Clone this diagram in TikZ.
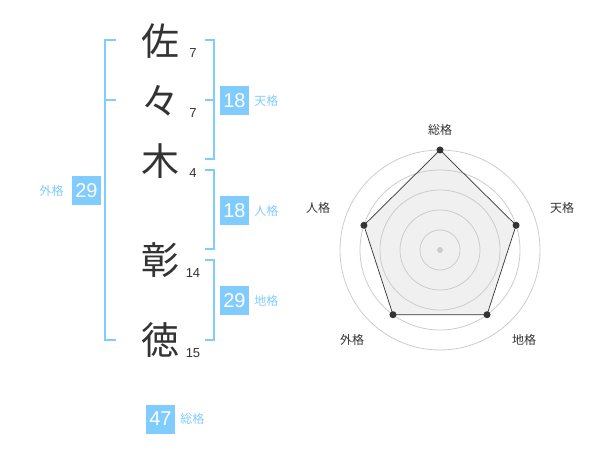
\documentclass[tikz,border=0pt]{standalone}
\usepackage{fontspec}
\setmainfont{Liberation Sans}
\newfontfamily\cjk{Noto Sans CJK JP}
\usetikzlibrary{positioning}
\definecolor{ink}{HTML}{333333}
\definecolor{sky}{HTML}{80CCFF}
\definecolor{ring}{HTML}{CCCCCC}
\definecolor{radarfill}{HTML}{F0F0F0}
\tikzset{
  kanji/.style={text=ink,font=\cjk\fontsize{38}{38}\selectfont,inner sep=0pt},
  strokes/.style={text=ink,font=\fontsize{13}{13}\selectfont,inner sep=0pt},
  bracket/.style={draw=sky,line width=2pt},
  score/.style={fill=sky,text=white,minimum size=29pt,inner sep=0pt,font=\fontsize{20}{20}\selectfont},
  kaku/.style={text=sky,font=\cjk\fontsize{12}{12}\selectfont,inner sep=0pt},
  axislabel/.style={text=ink,font=\cjk\fontsize{12}{12}\selectfont,inner sep=0pt},
}
\begin{document}
\begin{tikzpicture}[x=1pt,y=-1pt]
  \useasboundingbox (0,0) rectangle (600,470);
  % name
  \node[kanji] (c0) at (160,41) {佐};
  \node[kanji] (c1) at (160,101) {々};
  \node[kanji] (c2) at (160,161) {木};
  \node[kanji] (c3) at (160,260) {彰};
  \node[kanji] (c4) at (160,340) {徳};
  \node[strokes] (s0) at (193,53) {7};
  \node[strokes] (s1) at (193,113) {7};
  \node[strokes] (s2) at (193,173) {4};
  \node[strokes] (s3) at (193,273) {14};
  \node[strokes] (s4) at (193,353) {15};
  % brackets
  \draw[bracket] (116,40) -- (105,40) -- (105,340) -- (116,340);
  \draw[bracket] (105,100) -- (116,100);
  \draw[bracket] (205,40) -- (214,40) -- (214,159) -- (205,159);
  \draw[bracket] (205,100) -- (214,100);
  \draw[bracket] (205,170) -- (214,170) -- (214,249) -- (205,249);
  \draw[bracket] (205,260) -- (214,260) -- (214,340) -- (205,340);
  % scores
  \node[score] (ten) at (234.5,100.5) {18};
  \node[kaku] [right=5pt of ten] {天格};
  \node[score] (jin) at (234.5,210.5) {18};
  \node[kaku] [right=5pt of jin] {人格};
  \node[score] (chi) at (234.5,300.5) {29};
  \node[kaku] [right=5pt of chi] {地格};
  \node[score] (gai) at (86.5,190.5) {29};
  \node[kaku] [left=8pt of gai] {外格};
  \node[score] (sou) at (160.5,419) {47};
  \node[kaku] [right=5pt of sou] {総格};
  % radar
  \begin{scope}[shift={(440,250)}]
    \fill[radarfill]
      (90:100pt) -- (18:80pt) -- (-54:80pt) -- (-126:80pt) -- (162:80pt) -- cycle;
    \foreach \r in {20,40,60,80,100}
      \draw[ring,line width=0.8pt] (0,0) circle (\r pt);
    \draw[ink,line width=0.7pt]
      (90:100pt) -- (18:80pt) -- (-54:80pt) -- (-126:80pt) -- (162:80pt) -- cycle;
    \foreach \a/\r in {90/100,18/80,-54/80,-126/80,162/80}
      \fill[ink] (\a:\r pt) circle (3.5pt);
    \fill[ring] (0,0) circle (3pt);
    \node[axislabel] (a0) at (0,-120) {総格};
    \node[axislabel] (a1) at (122,-42) {天格};
    \node[axislabel] (a2) at (84,90) {地格};
    \node[axislabel] (a3) at (-88,90) {外格};
    \node[axislabel] (a4) at (-122,-42) {人格};
  \end{scope}
\end{tikzpicture}
\end{document}
